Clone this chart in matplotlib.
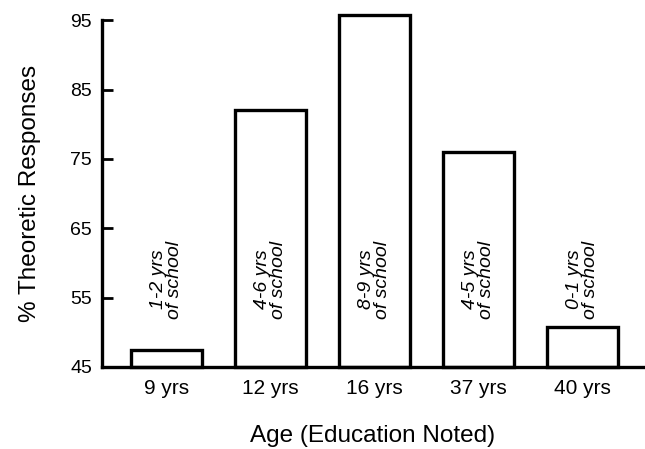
import numpy as np
import matplotlib.pyplot as plt

plt.rcParams['font.family'] = ['Liberation Sans', 'DejaVu Sans']

ages = ['9 yrs', '12 yrs', '16 yrs', '37 yrs', '40 yrs']
pct_theoretic = [47.5, 82.0, 95.7, 76.0, 50.8]
schooling = ['1-2 yrs\nof school', '4-6 yrs\nof school', '8-9 yrs\nof school',
             '4-5 yrs\nof school', '0-1 yrs\nof school']

fig = plt.figure(figsize=(6.45, 4.49), dpi=100)
ax = fig.add_axes([0.158, 0.183, 0.839, 0.772])

x = np.arange(len(ages))
bars = ax.bar(x, np.array(pct_theoretic) - 45, bottom=45, width=0.68,
              facecolor='white', edgecolor='black', linewidth=2.4, clip_on=False)

for xi, lab in zip(x, schooling):
    ax.text(xi, 57.6, lab, rotation=90, ha='center', va='center',
            fontsize=14, style='italic', linespacing=0.92)

ax.set_ylim(45, 95)
ax.set_xlim(-0.62, 4.58)
ax.set_yticks([45, 55, 65, 75, 85, 95])
ax.set_xticks(x)
ax.set_xticklabels(ages, fontsize=15)
ax.tick_params(axis='y', direction='in', length=8, width=2, labelsize=14, pad=7)
ax.tick_params(axis='x', length=0, pad=9)

for s in ['top', 'right']:
    ax.spines[s].set_visible(False)
ax.spines['left'].set_linewidth(2.4)
ax.spines['bottom'].set_linewidth(2.4)

ax.set_xlabel('Age (Education Noted)', fontsize=17.5, labelpad=19)
ax.set_ylabel('% Theoretic Responses', fontsize=17.5, labelpad=21)

fig.savefig('out.png', dpi=100)
